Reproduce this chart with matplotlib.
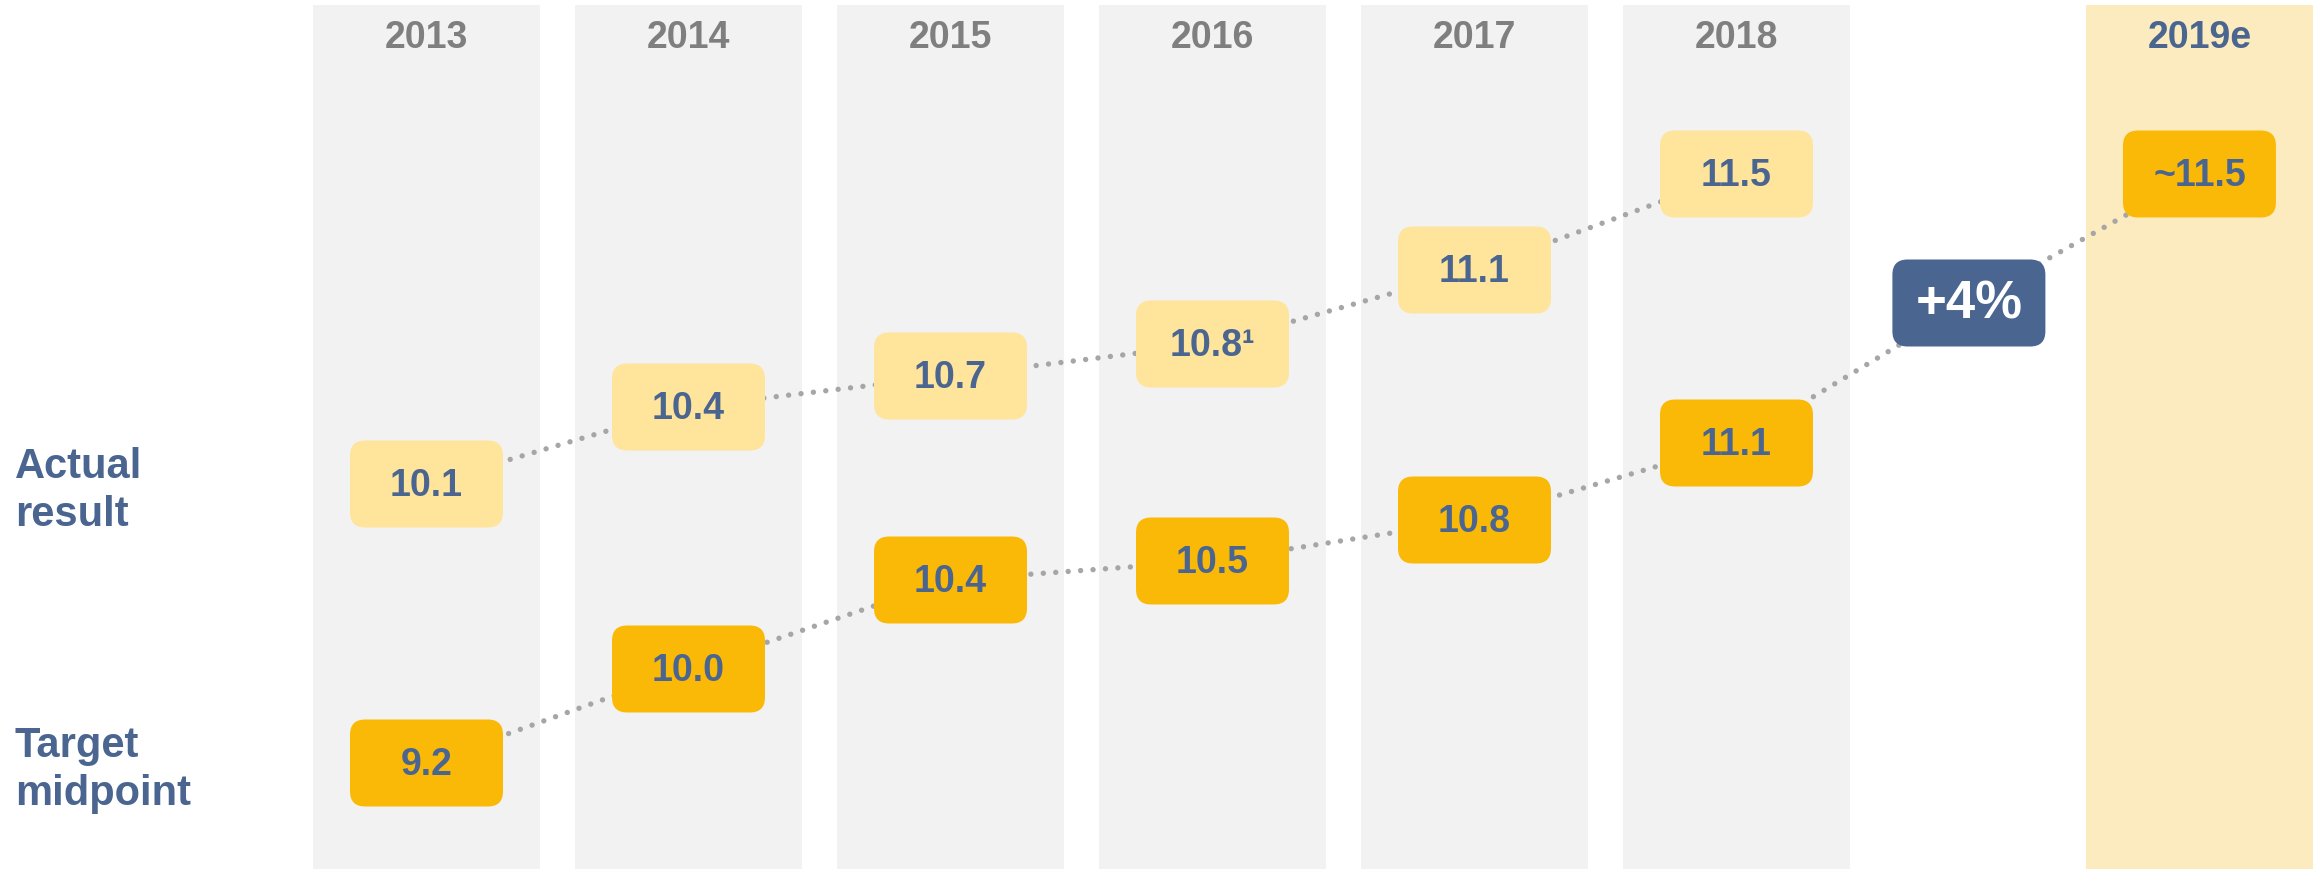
import matplotlib.pyplot as plt
from matplotlib.patches import FancyBboxPatch, Rectangle

# data
years = ["2013", "2014", "2015", "2016", "2017", "2018", "2019e"]
actual = [10.1, 10.4, 10.7, 10.8, 11.1, 11.5]
target = [9.2, 10.0, 10.4, 10.5, 10.8, 11.1, 11.5]
actual_notes = ["", "", "", "\u00b9", "", ""]
target_prefix = ["", "", "", "", "", "", "~"]
growth = "+4%"
row_names = ["Actual\nresult", "Target\nmidpoint"]

# layout: x in column slots, y in pixels from the top
x_slot = [0, 1, 2, 3, 4, 5, 6.767]
growth_slot = 5.887
actual_level = [485, 408, 377, 345, 271, 175]
target_level = [764, 670, 581, 562, 521, 444, 175]
growth_level = 304
label_x = -1.571

NAVY = "#4A6590"
GREY_TXT = "#7F7F7F"
COL_BG = "#F2F2F2"
EST_BG = "#FDEBC0"
LIGHT = "#FFE49C"
DARK = "#FBB907"
DOTS = "#A6A6A6"
FONT = "Liberation Sans"

PITCH = 262.0  # px per slot
COL_W = 227 / PITCH
BOX_W = 153 / PITCH
BOX_H = 87

fig = plt.figure(figsize=(23.16, 8.7), dpi=100)
ax = fig.add_axes([0, 0, 1, 1])
ax.set_xlim(-426.5 / PITCH, (2316 - 426.5) / PITCH)
ax.set_ylim(870, 0)
ax.axis("off")

# year columns
for i, yr in enumerate(years):
    est = yr.endswith("e")
    ax.add_patch(Rectangle((x_slot[i] - COL_W / 2, 6), COL_W, 870,
                           facecolor=EST_BG if est else COL_BG, edgecolor="none", zorder=0))
    ax.text(x_slot[i], 38, yr, ha="center", va="center", fontsize=27, fontweight="bold",
            color=NAVY if est else GREY_TXT, family=FONT)

def box(x, y, txt, face, tcol=NAVY, size=27):
    p = FancyBboxPatch((x - BOX_W / 2, y - BOX_H / 2), BOX_W, BOX_H,
                       boxstyle="round,pad=0,rounding_size=0.058",
                       mutation_aspect=PITCH, facecolor=face, edgecolor="none", zorder=3)
    ax.add_patch(p)
    ax.text(x, y + 1, txt, ha="center", va="center", fontsize=size, fontweight="bold",
            color=tcol, family=FONT, zorder=4)

dot_style = dict(color=DOTS, lw=3.9, linestyle=(0, (0.001, 2.3)),
                 dash_capstyle="round", zorder=2)

# actual result row
n = len(actual)
ax.plot(x_slot[:n], actual_level, **dot_style)
for i, v in enumerate(actual):
    box(x_slot[i], actual_level[i], f"{v:.1f}{actual_notes[i]}", LIGHT)

# target midpoint row (through the growth badge to the estimate)
tx = x_slot[:len(target) - 1] + [growth_slot, x_slot[len(target) - 1]]
ty = target_level[:-1] + [growth_level, target_level[-1]]
ax.plot(tx, ty, **dot_style)
for i, v in enumerate(target):
    box(x_slot[i], target_level[i], f"{target_prefix[i]}{v:.1f}", DARK)

box(growth_slot, growth_level, growth, NAVY, tcol="white", size=38)

# row labels
for name, lvl in zip(row_names, [actual_level[0], target_level[0]]):
    ax.text(label_x, lvl + 6, name, ha="left", va="center", fontsize=30, fontweight="bold",
            color=NAVY, family=FONT, linespacing=1.27)

fig.savefig("out.png", dpi=100)
